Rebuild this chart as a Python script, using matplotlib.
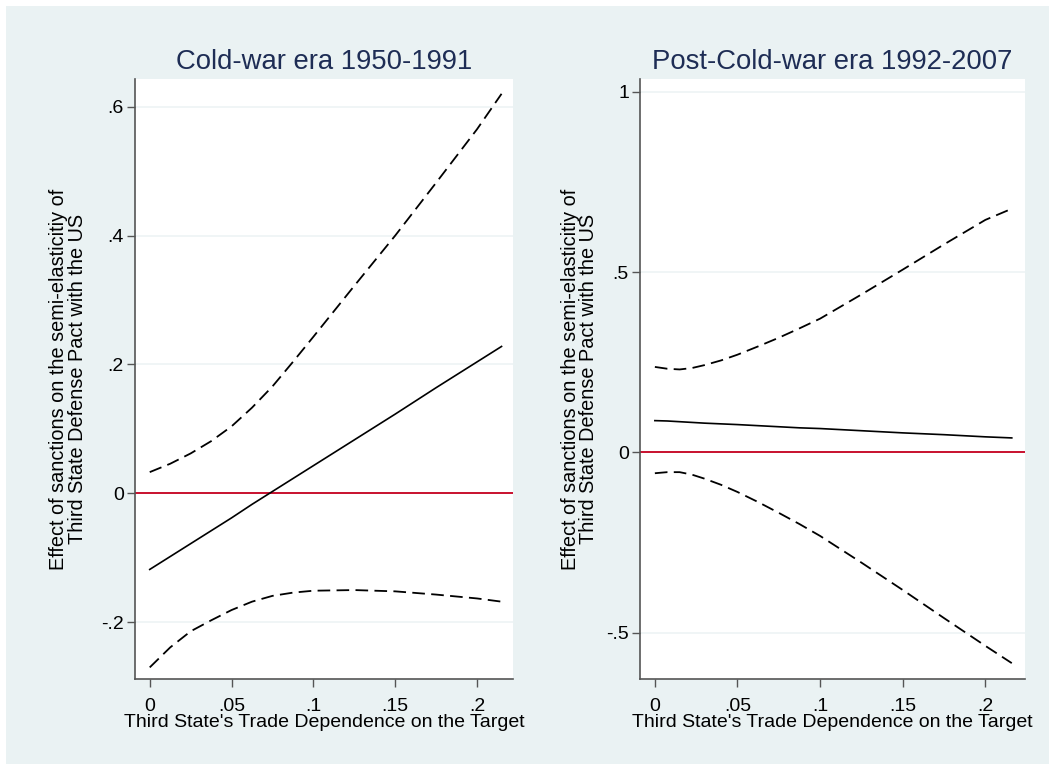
import matplotlib
matplotlib.use("Agg")
import matplotlib.pyplot as plt
from matplotlib import font_manager as fm

# ---- data ----
x_left = [0, 0.0125, 0.025, 0.0375, 0.05, 0.0625, 0.075, 0.0875, 0.1, 0.125, 0.15, 0.175, 0.2, 0.215]
left_center = [-0.118, -0.098, -0.078, -0.058, -0.038, -0.017, 0.003, 0.023, 0.043, 0.083, 0.123, 0.164, 0.204, 0.228]
left_upper = [0.033, 0.046, 0.062, 0.081, 0.104, 0.133, 0.166, 0.204, 0.243, 0.322, 0.400, 0.482, 0.565, 0.620]
left_lower = [-0.270, -0.239, -0.214, -0.197, -0.181, -0.168, -0.159, -0.154, -0.151, -0.150, -0.152, -0.157, -0.163, -0.168]

x_right = [0, 0.0075, 0.015, 0.0225, 0.03, 0.04, 0.05, 0.0625, 0.075, 0.0875, 0.1, 0.125, 0.15, 0.175, 0.2, 0.216]
right_center = [0.088, 0.087, 0.085, 0.083, 0.081, 0.079, 0.077, 0.074, 0.071, 0.068, 0.066, 0.060, 0.054, 0.049, 0.043, 0.040]
right_upper = [0.237, 0.232, 0.230, 0.234, 0.242, 0.255, 0.271, 0.294, 0.318, 0.344, 0.371, 0.438, 0.507, 0.577, 0.645, 0.676]
right_lower = [-0.058, -0.055, -0.055, -0.062, -0.073, -0.090, -0.110, -0.138, -0.168, -0.199, -0.232, -0.306, -0.382, -0.460, -0.537, -0.585]

x_ticks = [0, 0.05, 0.1, 0.15, 0.2]
x_ticklabels = ["0", ".05", ".1", ".15", ".2"]
left_yticks = [-0.2, 0, 0.2, 0.4, 0.6]
left_yticklabels = ["-.2", "0", ".2", ".4", ".6"]
right_yticks = [-0.5, 0, 0.5, 1]
right_yticklabels = ["-.5", "0", ".5", "1"]

titles = ["Cold-war era 1950-1991", "Post-Cold-war era 1992-2007"]
xlabel = "Third State's Trade Dependence on the Target"
ylabel = "Effect of sanctions on the semi-elasticitiy of\nThird State Defense Pact with the US"

# ---- style ----
names = {f.name for f in fm.fontManager.ttflist}
base_font = "Liberation Sans" if "Liberation Sans" in names else "DejaVu Sans"
narrow_font = "Liberation Sans Narrow" if "Liberation Sans Narrow" in names else base_font
plt.rcParams["font.family"] = [base_font, "DejaVu Sans"]

BG = "#EAF2F3"
GRID = "#EEF4F5"
TITLE_C = "#1E2D55"
RED = "#C8102E"
AXC = "#555555"

W, H = 1055, 770
fig = plt.figure(figsize=(W / 100, H / 100), dpi=100)
fig.patch.set_facecolor("white")
fig.add_artist(plt.Rectangle((6 / W, 6 / H), (W - 12) / W, (H - 12) / H,
                             transform=fig.transFigure, facecolor=BG,
                             edgecolor="none", zorder=-10))

def px_axes(x0, y0, x1, y1):
    return fig.add_axes([x0 / W, 1 - y1 / H, (x1 - x0) / W, (y1 - y0) / H])

ax1 = px_axes(135, 79, 513, 679)
ax2 = px_axes(640, 79, 1025, 679)

panels = [
    (ax1, x_left, left_center, left_upper, left_lower, left_yticks, left_yticklabels, (-0.288, 0.643), 10),
    (ax2, x_right, right_center, right_upper, right_lower, right_yticks, right_yticklabels, (-0.629, 1.036), 5.5),
]

for i, (ax, xs, c, u, l, yt, ytl, ylim, lpad) in enumerate(panels):
    ax.set_facecolor("white")
    for yv in yt:
        ax.axhline(yv, color=GRID, lw=1.2, zorder=0)
    ax.plot(xs, u, color="black", lw=1.3, dashes=(7, 3.5), zorder=3)
    ax.plot(xs, l, color="black", lw=1.3, dashes=(7, 3.5), zorder=3)
    ax.plot(xs, c, color="black", lw=1.2, zorder=3)
    ax.axhline(0, color=RED, lw=1.4, zorder=2)
    ax.set_xlim(-0.009, 0.222 if i == 0 else 0.224)
    ax.set_ylim(*ylim)
    ax.set_xticks(x_ticks)
    ax.set_xticklabels(x_ticklabels)
    ax.set_yticks(yt)
    ax.set_yticklabels(ytl)
    for s in ["top", "right"]:
        ax.spines[s].set_visible(False)
    for s in ["left", "bottom"]:
        ax.spines[s].set_color(AXC)
        ax.spines[s].set_linewidth(1.2)
    ax.tick_params(axis="both", direction="out", length=6, width=1.0, color=AXC,
                   labelsize=14, labelcolor="black", pad=2)
    ax.tick_params(axis="x", pad=8)
    ax.set_title(titles[i], fontsize=19.8, color=TITLE_C, pad=7)
    ax.set_xlabel(xlabel, fontsize=14, labelpad=-1)
    ax.set_ylabel(ylabel, fontsize=14.3, family=[narrow_font, "DejaVu Sans"],
                  labelpad=lpad, linespacing=1.0)

fig.savefig("out.png", dpi=100, facecolor=fig.get_facecolor())
